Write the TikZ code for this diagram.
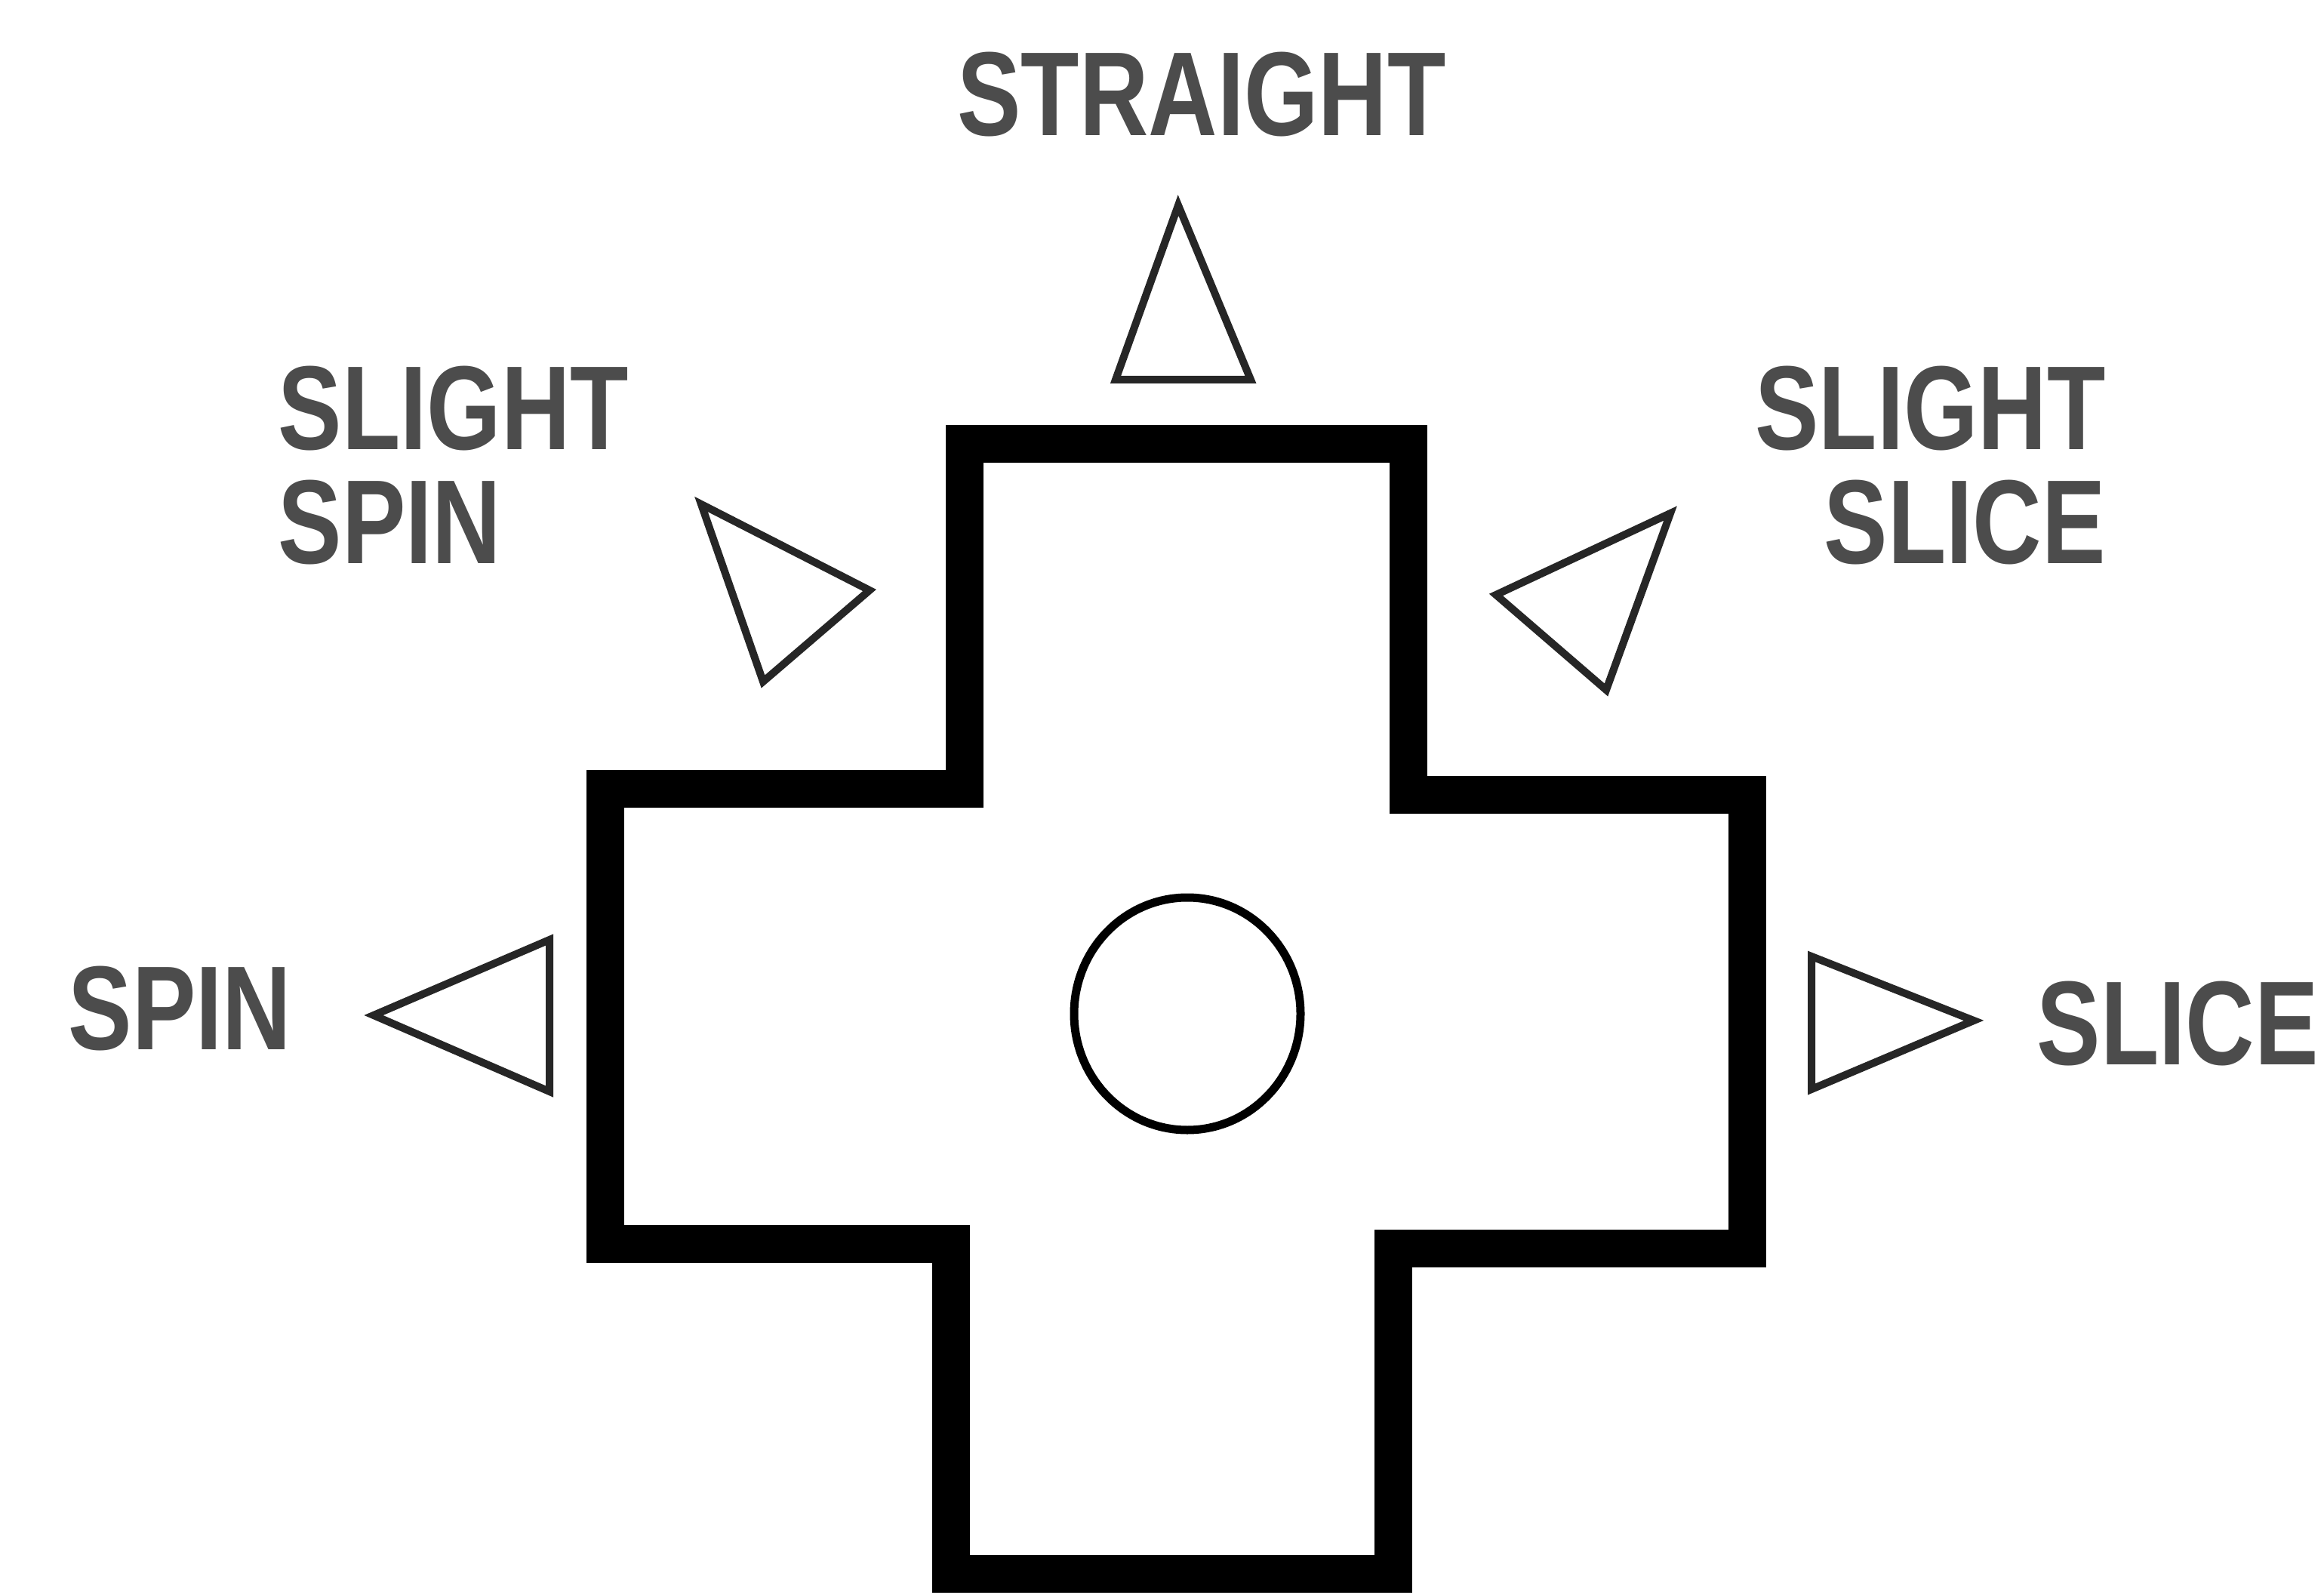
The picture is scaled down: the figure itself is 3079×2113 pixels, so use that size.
\documentclass[tikz,border=0pt]{standalone}
\usepackage{fontspec}
\newfontfamily\padfont{Liberation Sans}

\begin{document}
\begin{tikzpicture}[x=0.01cm,y=-0.01cm,pad/.style={line width=5mm, line join=miter},marker/.style={draw=black!85, line width=1mm, line join=miter},dirtext/.style={font=\padfont\bfseries\fontsize{45pt}{43pt}\selectfont, text=black!70, inner sep=0pt, xscale=0.8}]
\useasboundingbox (0,0) rectangle (3079,2113);
% d-pad outline
\draw[pad] (1278,588) -- (1866,588) -- (1866,1053) -- (2315,1053) -- (2315,1654) -- (1846,1654) -- (1846,2085) -- (1260,2085) -- (1260,1648) -- (802,1648) -- (802,1045) -- (1278,1045) -- cycle;
\coordinate (C) at (1573,1343);
\draw[line width=1.1mm] (C) ellipse [x radius=150, y radius=154];
% direction markers
\draw[marker] (1561,272) -- (1657,503) -- (1478,503) -- cycle;
\draw[marker] (929,668) -- (1152,782) -- (1011,903) -- cycle;
\draw[marker] (2213,680) -- (1982,788) -- (2128,914) -- cycle;
\draw[marker] (495,1345) -- (728,1245) -- (728,1446) -- cycle;
\draw[marker] (2400,1267) -- (2615,1352) -- (2400,1443) -- cycle;
% labels
\node[dirtext, anchor=base] (straight) at (1592,180) {STRAIGHT};
\node[dirtext, anchor=north west, align=left] (slightspin) at (368,484) {SLIGHT\\SPIN};
\node[dirtext, anchor=north east, align=right] (slightslice) at (2790,484) {SLIGHT\\SLICE};
\node[dirtext, anchor=base west] (spin) at (90,1390) {SPIN};
\node[dirtext, anchor=base east] (slice) at (3072,1410) {SLICE};
\end{tikzpicture}
\end{document}
